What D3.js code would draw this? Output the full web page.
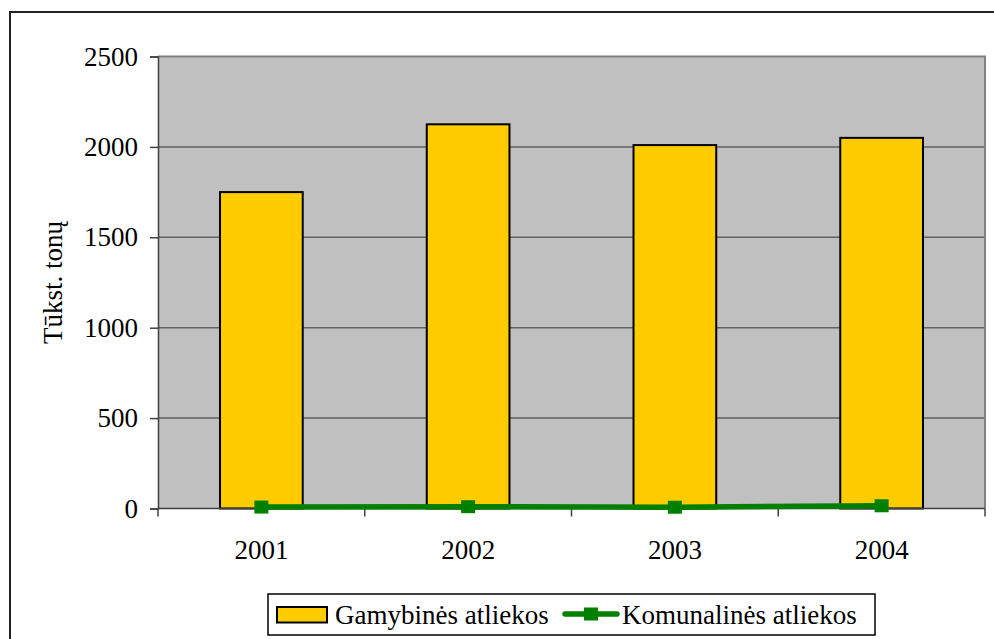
<!DOCTYPE html>
<html>
<head>
<meta charset="utf-8">
<script src="https://cdn.jsdelivr.net/npm/d3@7"></script>
<style>
  html, body { margin: 0; padding: 0; background: #fff; }
  svg { display: block; }
</style>
</head>
<body>
<svg id="chart" width="994" height="639"></svg>
<script>
// Atliekų kiekis, tūkst. tonų
const years = ["2001", "2002", "2003", "2004"];
const gamybines = [1750, 2125, 2010, 2050];
const komunalines = [8, 10, 7, 15];
const yTicks = [0, 500, 1000, 1500, 2000, 2500];
const seriesNames = ["Gamybinės atliekos", "Komunalinės atliekos"];
const axisTitle = "Tūkst. tonų";

const serif = '"Liberation Serif", "Times New Roman", Tinos, serif';
const fontSize = 27;
const svg = d3.select("#chart");
const plot = { left: 158, right: 985, top: 56.5, bottom: 508.5 };

// groups that hold text carry the serif face and size
function textGroup(parent) {
  return parent.append("g")
    .attr("font-family", serif).attr("font-size", fontSize).attr("fill", "#000");
}

// outer frame
svg.append("rect")
  .attr("x", 10).attr("y", 12)
  .attr("width", 1000).attr("height", 700)
  .attr("fill", "#fff").attr("stroke", "#222").attr("stroke-width", 2);

const x = d3.scaleBand().domain(years).range([plot.left, plot.right]).padding(0);
const y = d3.scaleLinear().domain([0, 2500]).range([plot.bottom, plot.top]);

// plot background
svg.append("rect")
  .attr("x", plot.left).attr("y", plot.top)
  .attr("width", plot.right - plot.left).attr("height", plot.bottom - plot.top)
  .attr("fill", "#c0c0c0");

// horizontal gridlines
svg.append("g").selectAll("line")
  .data(yTicks.filter(d => d > 0 && d < 2500))
  .join("line")
  .attr("x1", plot.left).attr("x2", plot.right)
  .attr("y1", d => y(d)).attr("y2", d => y(d))
  .attr("stroke", "#606060").attr("stroke-width", 1.5);

// plot border (top and right)
svg.append("path")
  .attr("d", `M${plot.left},${plot.top}H${plot.right}V${plot.bottom}`)
  .attr("fill", "none").attr("stroke", "#808080").attr("stroke-width", 2);

// bars
const barW = x.bandwidth() * 0.4;
svg.append("g").selectAll("rect")
  .data(years)
  .join("rect")
  .attr("x", d => x(d) + (x.bandwidth() - barW) / 2)
  .attr("y", (d, i) => y(gamybines[i]))
  .attr("width", barW)
  .attr("height", (d, i) => y(0) - y(gamybines[i]))
  .attr("fill", "#ffcc00").attr("stroke", "#000").attr("stroke-width", 2);

// y axis
const yAxis = d3.axisLeft(y).tickValues(yTicks).tickFormat(d3.format("d")).tickSize(8).tickPadding(12);
const gy = svg.append("g").attr("transform", `translate(${plot.left},0)`).call(yAxis)
  .attr("font-family", serif).attr("font-size", fontSize);
gy.select(".domain").attr("stroke", "#404040").attr("stroke-width", 1.5);
gy.selectAll(".tick line").attr("stroke", "#404040").attr("stroke-width", 1.5);
gy.selectAll(".tick text").attr("fill", "#000");

// x axis with ticks at category boundaries
const xEdges = years.map(d => x(d)).concat([plot.right]);
const gx = svg.append("g");
gx.append("line")
  .attr("x1", plot.left).attr("x2", plot.right)
  .attr("y1", plot.bottom).attr("y2", plot.bottom)
  .attr("stroke", "#404040").attr("stroke-width", 1.5);
gx.selectAll("line.tk")
  .data(xEdges)
  .join("line").attr("class", "tk")
  .attr("x1", d => d).attr("x2", d => d)
  .attr("y1", plot.bottom).attr("y2", plot.bottom + 8)
  .attr("stroke", "#404040").attr("stroke-width", 1.5);
textGroup(gx).selectAll("text")
  .data(years)
  .join("text")
  .attr("x", d => x(d) + x.bandwidth() / 2)
  .attr("y", 559)
  .attr("text-anchor", "middle")
  .text(d => d);

// line series
const cx = d => x(d) + x.bandwidth() / 2;
const lineGen = d3.line().x(d => cx(d.year)).y(d => y(d.v));
const lineData = years.map((yr, i) => ({ year: yr, v: komunalines[i] }));
svg.append("path")
  .datum(lineData)
  .attr("d", lineGen)
  .attr("fill", "none").attr("stroke", "#008000").attr("stroke-width", 5.5)
  .attr("stroke-linejoin", "round");
svg.append("g").selectAll("rect")
  .data(lineData)
  .join("rect")
  .attr("x", d => cx(d.year) - 7)
  .attr("y", d => y(d.v) - 6.5)
  .attr("width", 14).attr("height", 13)
  .attr("fill", "#008000");

// y axis title
textGroup(svg)
  .attr("transform", `translate(62,${(plot.top + plot.bottom) / 2}) rotate(-90)`)
  .append("text")
  .attr("text-anchor", "middle")
  .text(axisTitle);

// legend
const lg = svg.append("g");
lg.append("rect")
  .attr("x", 268).attr("y", 594).attr("width", 607).attr("height", 41)
  .attr("fill", "#fff").attr("stroke", "#000").attr("stroke-width", 1.5);
lg.append("rect")
  .attr("x", 277).attr("y", 607).attr("width", 50).attr("height", 15.5)
  .attr("fill", "#ffcc00").attr("stroke", "#000").attr("stroke-width", 2);
lg.append("line")
  .attr("x1", 565).attr("x2", 617).attr("y1", 614).attr("y2", 614)
  .attr("stroke", "#008000").attr("stroke-width", 5.5).attr("stroke-linecap", "round");
lg.append("rect")
  .attr("x", 584).attr("y", 607.5).attr("width", 14).attr("height", 13)
  .attr("fill", "#008000");
const lgText = textGroup(lg);
lgText.append("text")
  .attr("x", 335).attr("y", 623.5)
  .text(seriesNames[0]);
lgText.append("text")
  .attr("x", 622).attr("y", 623.5)
  .text(seriesNames[1]);
</script>
</body>
</html>
